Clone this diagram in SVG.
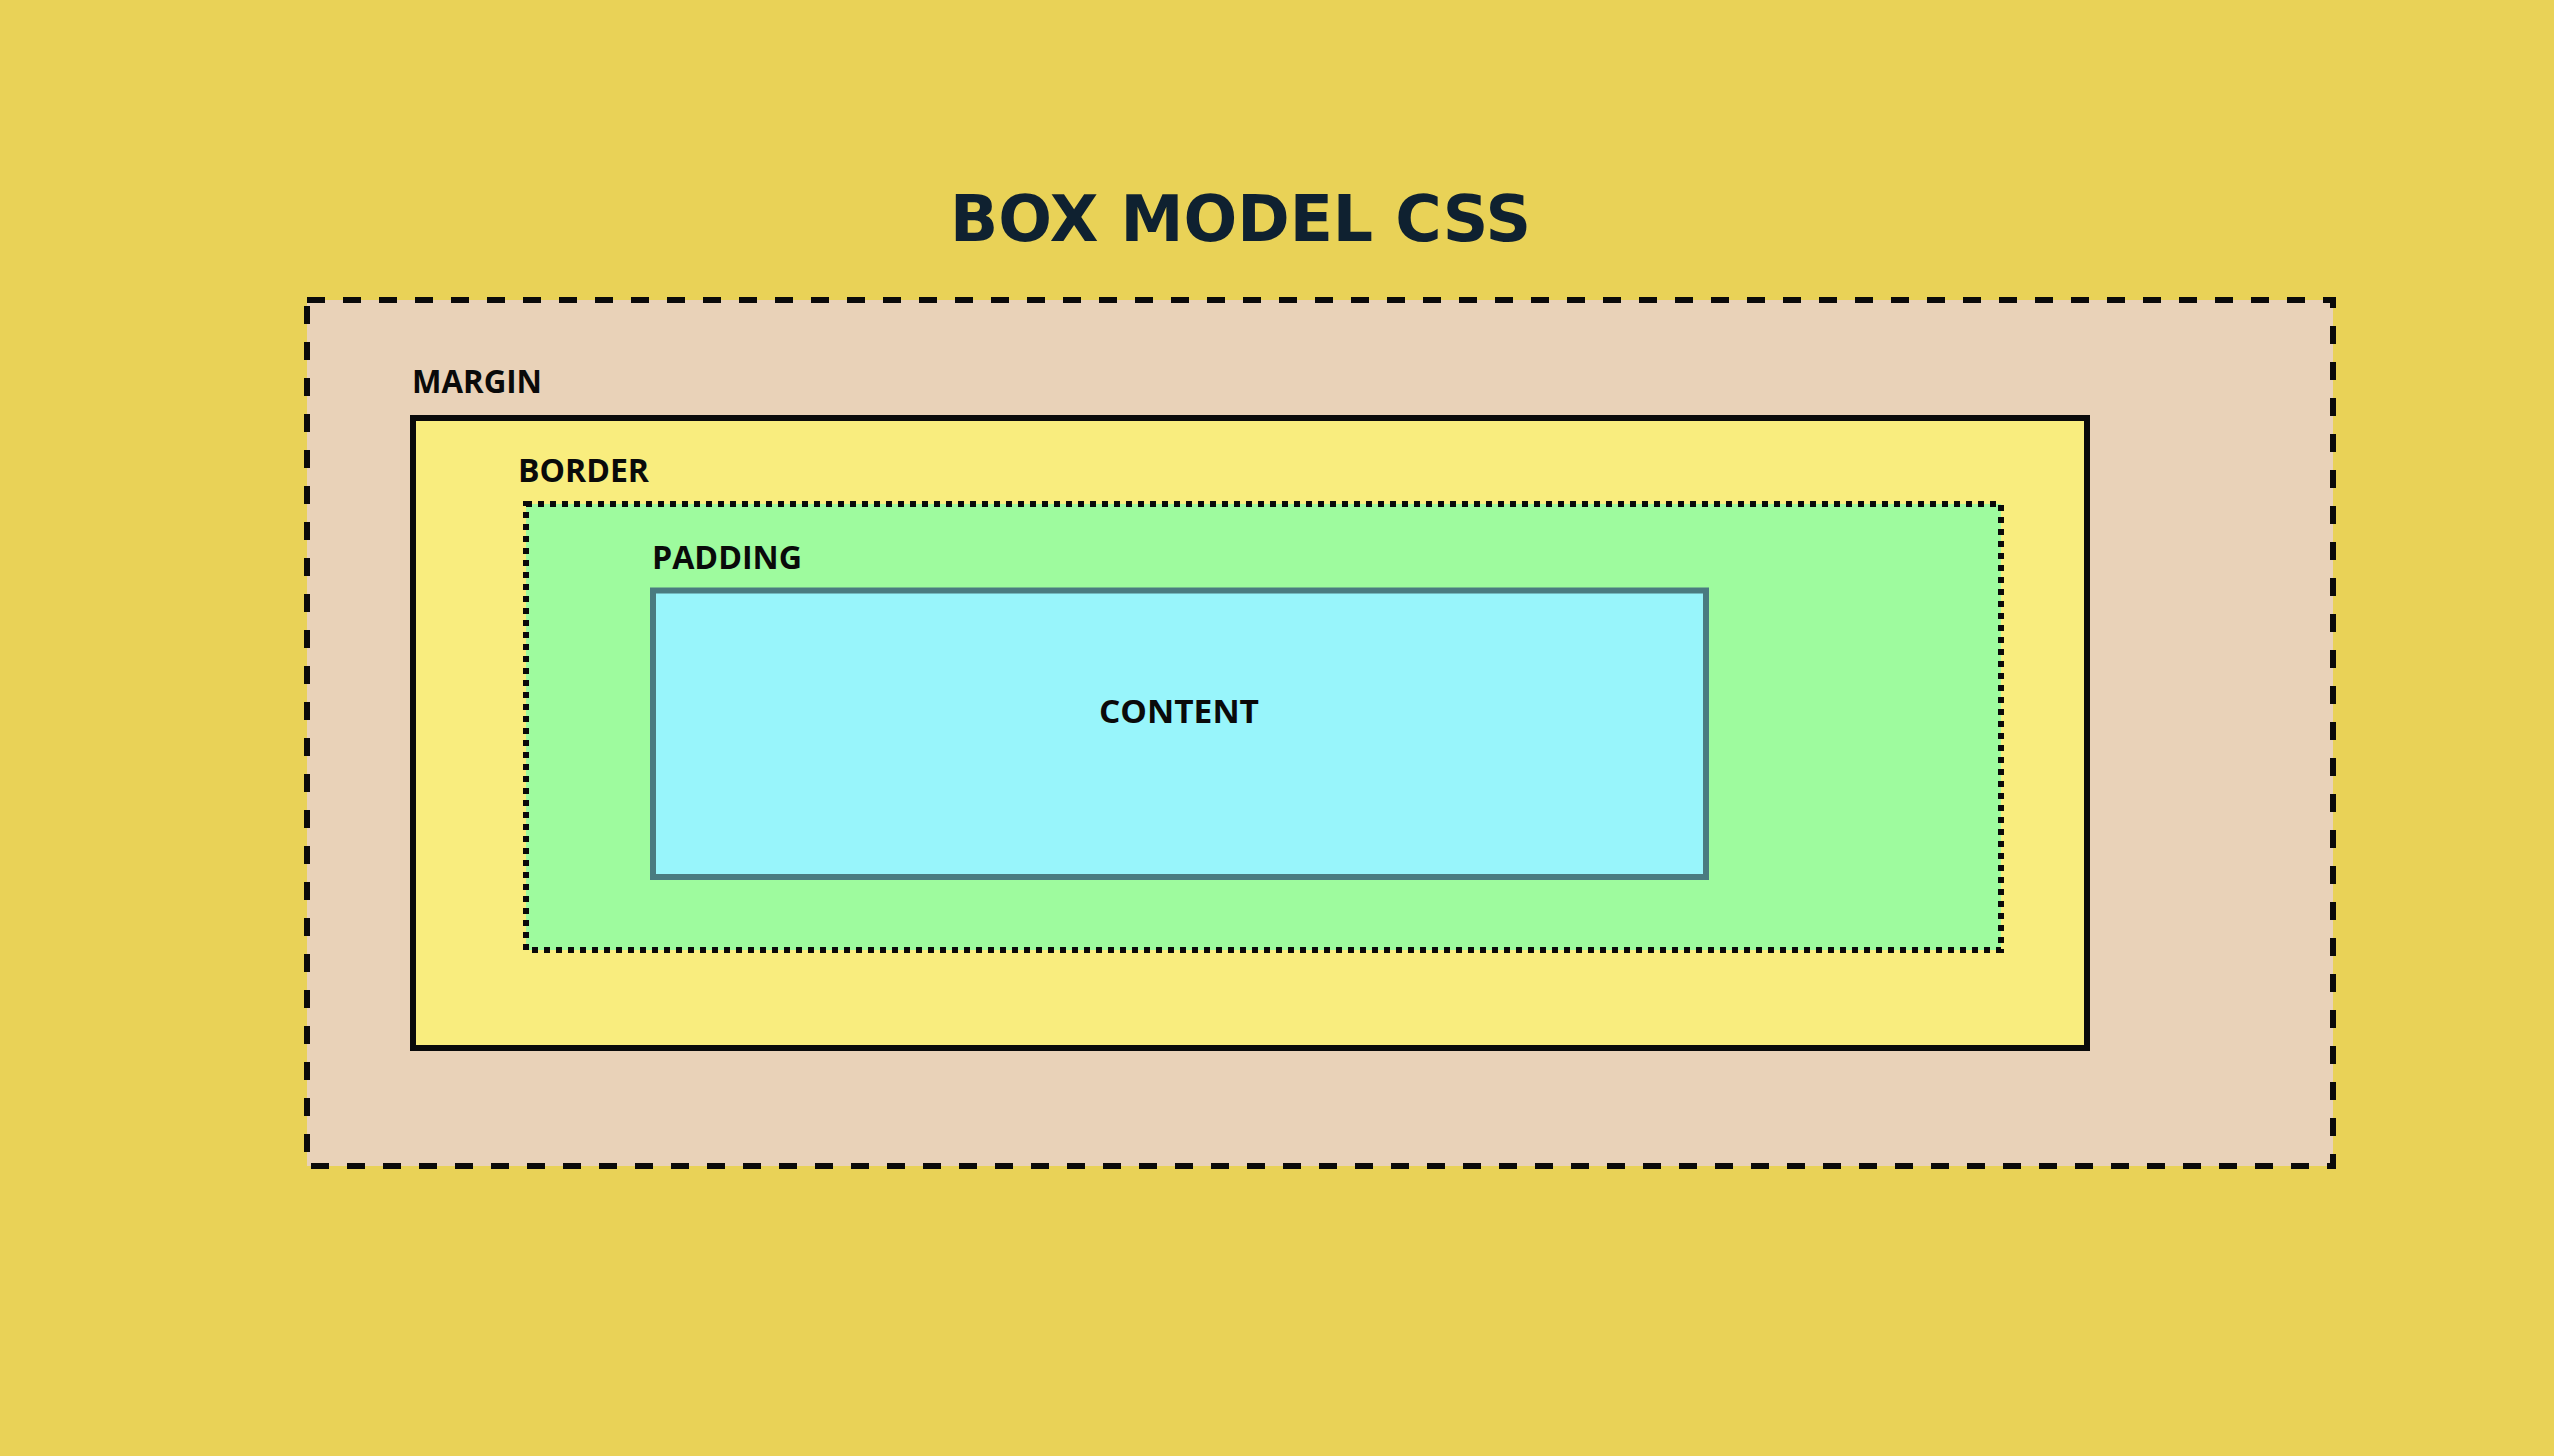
<svg xmlns="http://www.w3.org/2000/svg" width="2554" height="1456" viewBox="0 0 2554 1456">
  <style>
    .lbl { font-family: "Open Sans", "Noto Sans", "Liberation Sans", sans-serif; font-weight: 700; font-size: 32px; fill: #0a0a0a; }
    .title { font-family: "DejaVu Sans", "Liberation Sans", sans-serif; font-weight: 700; font-size: 64px; fill: #0f2130; }
  </style>
  <rect x="0" y="0" width="2554" height="1456" fill="#e9d257"/>
  <text class="title" x="950" y="241" textLength="581" lengthAdjust="spacingAndGlyphs">BOX MODEL CSS</text>
  <g id="margin">
    <rect x="307" y="300" width="2026" height="866" fill="#e9d2b8" stroke="#0a0a0a" stroke-width="6" stroke-dasharray="18 18"/>
    <text class="lbl" x="412" y="393" textLength="130" lengthAdjust="spacingAndGlyphs">MARGIN</text>
  </g>
  <g id="border">
    <rect x="413" y="418" width="1674" height="630" fill="#f9ed7e" stroke="#0a0a0a" stroke-width="6"/>
    <text class="lbl" x="518" y="482" textLength="131" lengthAdjust="spacingAndGlyphs">BORDER</text>
  </g>
  <g id="padding">
    <rect x="526" y="504" width="1475" height="446" fill="#9efb9e" stroke="#0a0a0a" stroke-width="6" stroke-dasharray="6 6"/>
    <text class="lbl" x="652" y="569" textLength="150" lengthAdjust="spacingAndGlyphs">PADDING</text>
  </g>
  <g id="content">
    <rect x="653" y="590.5" width="1053" height="286.5" fill="#98f5fb" stroke="#4a7b80" stroke-width="6"/>
    <text class="lbl" x="1099" y="723" textLength="160" lengthAdjust="spacingAndGlyphs">CONTENT</text>
  </g>
  <g id="connectors"/>
</svg>
